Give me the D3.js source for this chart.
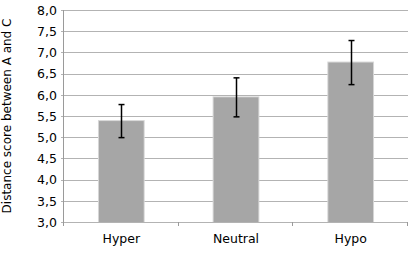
<!DOCTYPE html>
<html>
<head>
<meta charset="utf-8">
<script src="https://cdn.jsdelivr.net/npm/d3@7"></script>
<style>
  body { margin: 0; background: #fff; }
  text { font-family: "DejaVu Sans", sans-serif; fill: #000; }
</style>
</head>
<body>
<div class="container"></div>
<script>
var categories = ["Hyper", "Neutral", "Hypo"];
var means = [5.38, 5.94, 6.76];
var errors = [0.39, 0.46, 0.52];
var yTicks = [3.0, 3.5, 4.0, 4.5, 5.0, 5.5, 6.0, 6.5, 7.0, 7.5, 8.0];

var svgWidth = 417;
var svgHeight = 255;
var chartMargin = { top: 10, bottom: 33, left: 64, right: 9 };
var chartWidth = svgWidth - chartMargin.left - chartMargin.right;
var chartHeight = svgHeight - chartMargin.top - chartMargin.bottom;

var svg = d3.select(".container")
    .append("svg")
    .attr("width", svgWidth)
    .attr("height", svgHeight);

var chartGroup = svg.append("g")
    .attr("transform", `translate(${chartMargin.left}, ${chartMargin.top})`);

var xBandScale = d3.scaleBand()
    .domain(categories)
    .range([0, chartWidth])
    .paddingInner(0.61)
    .paddingOuter(0.305);

var yLinearScale = d3.scaleLinear()
    .domain([3, 8])
    .range([chartHeight, 0]);

// gridlines
chartGroup.append("g")
    .selectAll("line")
    .data(yTicks)
    .enter()
    .append("line")
    .attr("x1", -3)
    .attr("x2", chartWidth)
    .attr("y1", d => Math.round(yLinearScale(d)) + 0.5)
    .attr("y2", d => Math.round(yLinearScale(d)) + 0.5)
    .attr("stroke", "#b3b3b3")
    .attr("stroke-width", 1);

// left axis
var leftAxis = d3.axisLeft(yLinearScale)
    .tickValues(yTicks)
    .tickSize(0)
    .tickPadding(7)
    .tickFormat(d => d3.format(".1f")(d).replace(".", ","));

var yAxisG = chartGroup.append("g").call(leftAxis);
yAxisG.select(".domain").remove();
yAxisG.selectAll("text").style("font-size", "12.5px").attr("dy", "0.35em");

chartGroup.append("line")
    .attr("x1", -0.5).attr("x2", -0.5)
    .attr("y1", 0).attr("y2", chartHeight)
    .attr("stroke", "#9a9a9a");

// bottom axis
var bottomAxis = d3.axisBottom(xBandScale).tickSize(0).tickPadding(12);
var xAxisG = chartGroup.append("g")
    .attr("transform", `translate(0, ${chartHeight})`)
    .call(bottomAxis);
xAxisG.select(".domain").remove();
xAxisG.selectAll("text").style("font-size", "12.5px");

// category separators
var step = xBandScale.step();
chartGroup.append("g")
    .selectAll("line")
    .data(d3.range(categories.length + 1))
    .enter()
    .append("line")
    .attr("x1", i => Math.round(i * step) - 0.5)
    .attr("x2", i => Math.round(i * step) - 0.5)
    .attr("y1", chartHeight)
    .attr("y2", chartHeight + 4)
    .attr("stroke", "#9a9a9a");

// bar shadow
chartGroup.selectAll(".shadow")
    .data(means)
    .enter()
    .append("rect")
    .attr("x", (d, i) => xBandScale(categories[i]) - 1)
    .attr("y", d => yLinearScale(d) - 1)
    .attr("width", xBandScale.bandwidth() + 2)
    .attr("height", d => chartHeight - yLinearScale(d) + 1)
    .attr("fill", "#d6d6d6");

chartGroup.selectAll(".bar")
    .data(means)
    .enter()
    .append("rect")
    .classed("bar", true)
    .attr("x", (d, i) => xBandScale(categories[i]))
    .attr("y", d => yLinearScale(d))
    .attr("width", xBandScale.bandwidth())
    .attr("height", d => chartHeight - yLinearScale(d))
    .attr("fill", "#a6a6a6");

// error bars
var errG = chartGroup.selectAll(".err")
    .data(means)
    .enter()
    .append("g")
    .attr("transform", (d, i) => `translate(${Math.round(xBandScale(categories[i]) + xBandScale.bandwidth() / 2) + 0.5}, 0)`);

errG.append("line")
    .attr("y1", (d, i) => yLinearScale(d + errors[i]))
    .attr("y2", (d, i) => yLinearScale(d - errors[i]))
    .attr("stroke", "#000").attr("stroke-width", 1.5);
errG.append("line")
    .attr("x1", -3).attr("x2", 3)
    .attr("y1", (d, i) => yLinearScale(d + errors[i]))
    .attr("y2", (d, i) => yLinearScale(d + errors[i]))
    .attr("stroke", "#000").attr("stroke-width", 1.5);
errG.append("line")
    .attr("x1", -3).attr("x2", 3)
    .attr("y1", (d, i) => yLinearScale(d - errors[i]))
    .attr("y2", (d, i) => yLinearScale(d - errors[i]))
    .attr("stroke", "#000").attr("stroke-width", 1.5);

// y label
svg.append("text")
    .attr("transform", `translate(11, ${chartMargin.top + chartHeight / 2}) rotate(-90)`)
    .attr("text-anchor", "middle")
    .style("font-size", "12px")
    .text("Distance score between A and C");
</script>
</body>
</html>
